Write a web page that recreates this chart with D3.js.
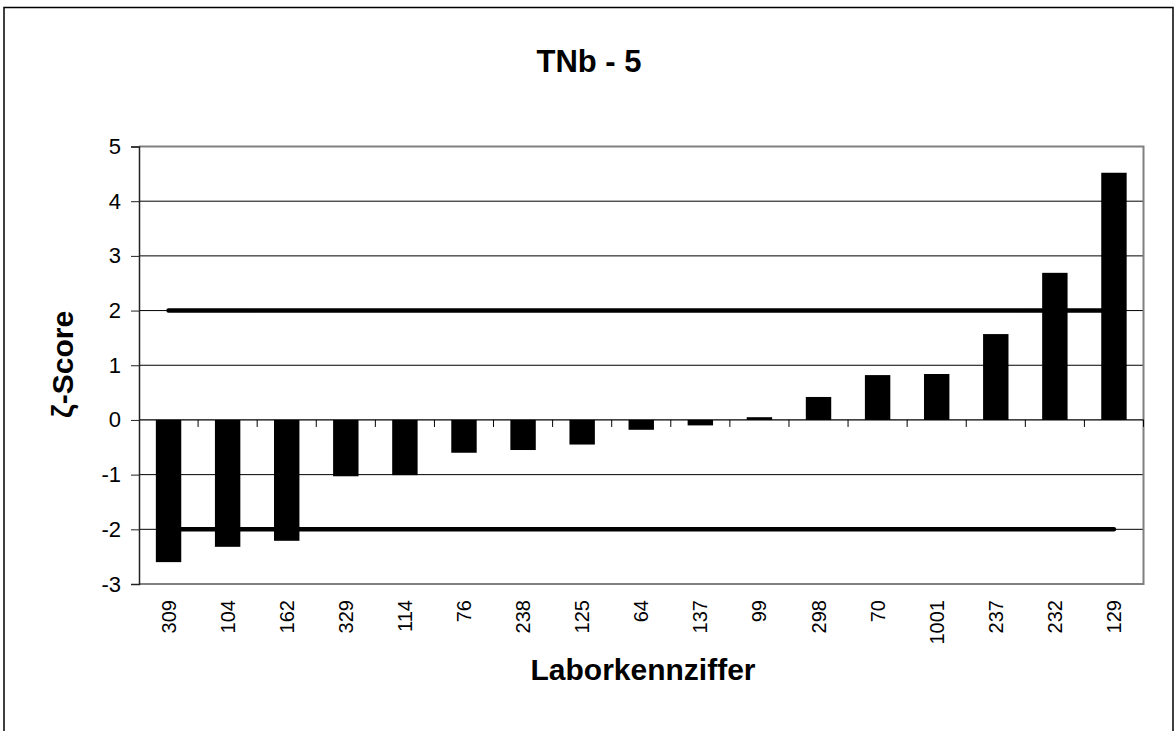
<!DOCTYPE html>
<html>
<head>
<meta charset="utf-8">
<script src="https://cdn.jsdelivr.net/npm/d3@7"></script>
<style>
  html, body { margin: 0; padding: 0; background: #fff; }
  svg { display: block; }
  text { font-family: Arial, "Liberation Sans", sans-serif; fill: #000; }
</style>
</head>
<body>
<script>
const categories = ["309","104","162","329","114","76","238","125","64","137","99","298","70","1001","237","232","129"];
const values = [-2.60,-2.32,-2.21,-1.03,-1.01,-0.60,-0.55,-0.45,-0.18,-0.10,0.05,0.42,0.82,0.84,1.57,2.69,4.52];
const limitValues = [2, -2];
const yTicks = [-3,-2,-1,0,1,2,3,4,5];
const chartTitle = "TNb - 5";
const xTitle = "Laborkennziffer";
const yTitle = "ζ-Score";

const W = 1175, H = 731;
const mLeft = 139, mRight = 1143.5, mTop = 146.5, mBottom = 584;

const svg = d3.select("body").append("svg").attr("width", W).attr("height", H);

// outer frame
svg.append("rect").attr("x", 4).attr("y", 7.5).attr("width", 1169).attr("height", 740)
  .attr("fill", "none").attr("stroke", "#000").attr("stroke-width", 1.5);

const x = d3.scaleBand().domain(categories).range([mLeft, mRight]).paddingInner(0.57).paddingOuter(0.285);
const y = d3.scaleLinear().domain([-3, 5]).range([mBottom, mTop]);

// gridlines
svg.append("g").selectAll("line").data(yTicks.filter(t => t !== 0 && t !== -3 && t !== 5)).join("line")
  .attr("x1", mLeft).attr("x2", mRight).attr("y1", d => y(d)).attr("y2", d => y(d))
  .attr("stroke", "#000").attr("stroke-width", 1);

// plot border (top, right, bottom)
svg.append("path")
  .attr("d", `M${mLeft},${y(5)}H${mRight}V${y(-3)}H${mLeft}`)
  .attr("fill", "none").attr("stroke", "#808080").attr("stroke-width", 2);

// bars
svg.append("g").selectAll("rect").data(values).join("rect")
  .attr("x", (d, i) => x(categories[i]))
  .attr("width", x.bandwidth())
  .attr("y", d => y(Math.max(0, d)))
  .attr("height", d => Math.abs(y(d) - y(0)))
  .attr("fill", "#000");

// limit lines
const line = d3.line().x(d => d[0]).y(d => d[1]);
limitValues.forEach(v => {
  const pts = categories.map(c => [x(c) + x.bandwidth() / 2, y(v)]);
  svg.append("path").attr("d", line(pts))
    .attr("fill", "none").attr("stroke", "#000").attr("stroke-width", 4.5)
    .attr("stroke-linecap", "round");
});

// zero axis with category ticks
const xAxisG = svg.append("g").attr("transform", `translate(0,${y(0)})`);
xAxisG.append("line").attr("x1", mLeft).attr("x2", mRight).attr("y1", 0).attr("y2", 0)
  .attr("stroke", "#000").attr("stroke-width", 1.2);
const boundaries = categories.map(c => x(c) - x.step() * x.paddingInner() / 2).concat([mRight]);
xAxisG.selectAll("line.tk").data(boundaries.slice(1)).join("line").attr("class", "tk")
  .attr("x1", d => d).attr("x2", d => d).attr("y1", 0).attr("y2", 7)
  .attr("stroke", "#000").attr("stroke-width", 1);

// y axis
const yAxis = d3.axisLeft(y).tickValues(yTicks).tickSize(8).tickPadding(10).tickFormat(d => String(d));
const yG = svg.append("g").attr("transform", `translate(${mLeft},0)`).call(yAxis);
yG.select(".domain").attr("stroke", "#222").attr("stroke-width", 1.5);
yG.selectAll(".tick line").attr("stroke", "#222");
yG.selectAll(".tick text").attr("font-size", 22).attr("font-family", "Arial, 'Liberation Sans', sans-serif").attr("fill", "#000");

// x tick labels (rotated)
svg.append("g").selectAll("text").data(categories).join("text")
  .attr("transform", d => `translate(${x(d) + x.bandwidth() / 2},600) rotate(-90)`)
  .attr("text-anchor", "end").attr("dy", "0.35em")
  .attr("font-size", 20)
  .text(d => d);

// titles
svg.append("text").attr("x", 589).attr("y", 72).attr("text-anchor", "middle")
  .attr("font-size", 31).attr("font-weight", "bold").text(chartTitle);
svg.append("text").attr("x", 643).attr("y", 680).attr("text-anchor", "middle")
  .attr("font-size", 30).attr("font-weight", "bold").text(xTitle);
svg.append("text").attr("transform", "translate(73,364.5) rotate(-90)").attr("text-anchor", "middle")
  .attr("font-size", 30).attr("font-weight", "bold").text(yTitle);
</script>
</body>
</html>
